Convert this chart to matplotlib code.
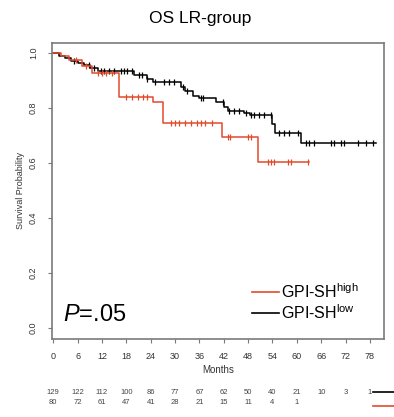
import numpy as np
import matplotlib
matplotlib.use("Agg")
import matplotlib.pyplot as plt
from matplotlib.lines import Line2D

plt.rcParams['font.family'] = ['Liberation Sans', 'DejaVu Sans']
plt.rcParams['mathtext.fontset'] = 'custom'
plt.rcParams['mathtext.rm'] = 'Liberation Sans'
plt.rcParams['mathtext.it'] = 'Liberation Sans:italic'

# Kaplan-Meier steps (time in months, survival after the step)
low_times = [0, 1.5, 3, 4.5, 6, 7.5, 9, 11, 20, 23, 24.5, 31.5, 32.5, 34.5, 36,
             40, 42, 43, 47, 48.5, 54, 54.5, 61]
low_surv = [1.0, 0.99, 0.98, 0.97, 0.962, 0.955, 0.945, 0.935, 0.92, 0.905, 0.895,
            0.875, 0.86, 0.845, 0.835, 0.82, 0.805, 0.79, 0.78, 0.775, 0.74, 0.71, 0.673]
low_last = 79.5
low_censor = [5, 8.9, 10, 11.8, 12.5, 13.8, 15, 16.7, 17.5, 18.2, 19.4, 21.1, 21.9,
              23.1, 25, 27.3, 28.5, 29.8, 32, 33, 36.4, 37, 41.8, 43.3, 44.5, 45.7,
              47.5, 48.7, 49.4, 50.7, 51.9, 53.6, 55.6, 56.8, 58, 60.2, 62.2, 63,
              64.2, 68.4, 69.1, 70.8, 71.6, 75, 77, 78.7]

high_times = [0, 2, 4, 7, 9.5, 16.3, 24.5, 27, 41.5, 50.5]
high_surv = [1.0, 0.987, 0.975, 0.953, 0.927, 0.84, 0.82, 0.745, 0.695, 0.605]
high_last = 63
high_censor = [5.5, 8, 11, 12, 13, 14.5, 18, 19.5, 21, 22, 23, 29, 30, 31, 32.5, 34,
               35.5, 36.5, 37.5, 39, 43, 43.6, 48, 48.6, 52.9, 53.6, 54.3, 57.8,
               58.5, 62.7]

month_ticks = list(range(0, 79, 6))
risk_low = [129, 122, 112, 100, 86, 77, 67, 62, 50, 40, 21, 10, 3, 1]
risk_high = [80, 72, 61, 47, 41, 28, 21, 15, 11, 4, 1]

red = '#e24a2c'
frame = '#7a7a7a'

fig = plt.figure(figsize=(3.94, 4.17), dpi=100)
ax = fig.add_axes([0.132, 0.187, 0.843, 0.710])


def km(ax, times, surv, last, censor, color):
    t = np.append(times, last)
    s = np.append(surv, surv[-1])
    ax.step(t, s, where='post', color=color, lw=1.1)
    idx = np.searchsorted(times, censor, side='right') - 1
    cy = np.asarray(surv)[idx]
    ax.plot(censor, cy, ls='none', marker='|', ms=5, mew=0.9, color=color)


km(ax, low_times, low_surv, low_last, low_censor, 'black')
km(ax, high_times, high_surv, high_last, high_censor, red)

ax.set_xlim(-0.3, 81.5)
ax.set_ylim(-0.04, 1.036)
ax.set_xticks(month_ticks)
ax.set_yticks([0.0, 0.2, 0.4, 0.6, 0.8, 1.0])
ax.set_yticklabels(['0.0', '0.2', '0.4', '0.6', '0.8', '1.0'], rotation=90, va='center')
ax.tick_params(axis='both', direction='out', length=3, width=0.8, color=frame,
               labelsize=6.5, labelcolor='#333333')
ax.tick_params(axis='x', pad=6)
ax.tick_params(axis='y', pad=7)
for sp in ax.spines.values():
    sp.set_color(frame)
    sp.set_linewidth(1.2)

ax.set_ylabel('Survival Probability', fontsize=6.5, color='#333333', labelpad=3)
fig.text(0.553, 1 - 370 / 417, 'Months', ha='center', va='center',
         fontsize=7, color='#333333')
fig.text(200 / 394, 1 - 18 / 417, 'OS LR-group', ha='center', va='center',
         fontsize=12.5)

# legend
for y, col, lab in [(0.159, red, 'GPI-SH$^{\\mathrm{high}}$'),
                    (0.088, 'black', 'GPI-SH$^{\\mathrm{low}}$')]:
    ax.add_line(Line2D([0.602, 0.684], [y, y], transform=ax.transAxes,
                       color=col, lw=1.2))
    ax.text(0.690, y, lab, transform=ax.transAxes, ha='left', va='center',
            fontsize=11.5)

ax.text(0.033, 0.081, '$\\mathit{P}$=.05', transform=ax.transAxes,
        ha='left', va='center', fontsize=17)

# numbers at risk
bt = matplotlib.transforms.blended_transform_factory(ax.transData, fig.transFigure)
for m, n in zip(month_ticks, risk_low):
    fig.text(m, 1 - 392 / 417, str(n), transform=bt, ha='center', va='center',
             fontsize=5.5, color='#444444')
for m, n in zip(month_ticks, risk_high):
    fig.text(m, 1 - 403 / 417, str(n), transform=bt, ha='center', va='center',
             fontsize=5.5, color='#444444')
fig.add_artist(Line2D([373 / 394, 1.0], [1 - 392 / 417] * 2, color='black', lw=1.2))
fig.add_artist(Line2D([373 / 394, 1.0], [1 - 406 / 417] * 2, color=red, lw=1.2))

fig.savefig('out.png', dpi=100)
